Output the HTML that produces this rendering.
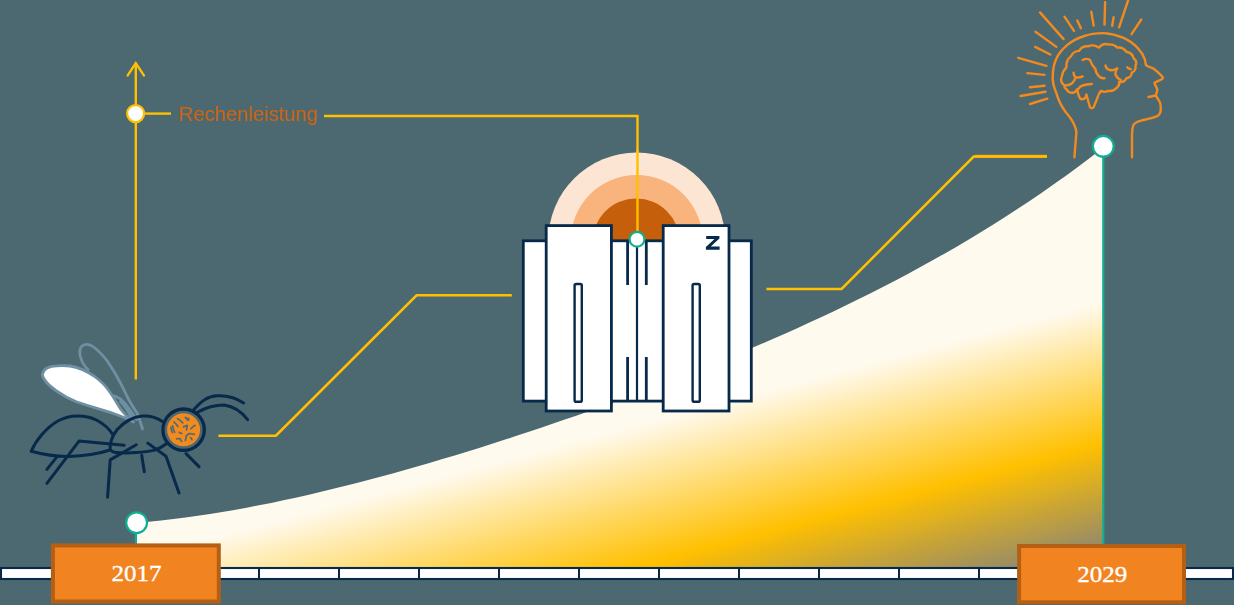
<!DOCTYPE html>
<html><head><meta charset="utf-8"><title>Rechenleistung</title>
<style>
html,body{margin:0;padding:0;background:#4c6871;}
body{width:1234px;height:605px;overflow:hidden;font-family:"Liberation Sans",sans-serif;}
svg{display:block;}
text{font-family:"Liberation Sans",sans-serif;}
</style></head><body>
<svg width="1234" height="605" viewBox="0 0 1234 605">
<defs>
<linearGradient id="ag" gradientUnits="userSpaceOnUse" x1="45.1" y1="170.2" x2="212.8" y2="802.9">
<stop offset="0" stop-color="#fffaee"/>
<stop offset="0.608" stop-color="#fffaee"/>
<stop offset="0.818" stop-color="#ffc000"/>
<stop offset="1" stop-color="#7f7f7f"/>
</linearGradient>

</defs>
<rect width="1234" height="605" fill="#4c6871"/>

<!-- AREA -->
<path id="area" d="M136.6,567 L136.6,522.8 L148.8,521.7 L161.1,520.4 L173.3,519.0 L185.5,517.5 L197.8,515.8 L210.0,513.9 L222.2,512.0 L234.5,509.9 L246.7,507.7 L258.9,505.3 L271.2,502.9 L283.4,500.3 L295.6,497.7 L307.9,494.9 L320.1,492.1 L332.3,489.1 L344.6,486.1 L356.8,483.0 L369.0,479.8 L381.3,476.5 L393.5,473.2 L405.7,469.8 L418.0,466.3 L430.2,462.7 L442.4,459.1 L454.7,455.4 L466.9,451.7 L479.1,447.9 L491.4,444.0 L503.6,440.1 L515.8,436.1 L528.1,432.1 L540.3,428.0 L552.5,423.8 L564.8,419.6 L577.0,415.4 L589.2,411.1 L601.5,406.7 L613.7,402.3 L625.9,397.8 L638.1,393.3 L650.4,388.7 L662.6,384.0 L674.8,379.3 L687.1,374.5 L699.3,369.7 L711.5,364.7 L723.8,359.8 L736.0,354.7 L748.2,349.6 L760.5,344.3 L772.7,339.0 L784.9,333.7 L797.2,328.2 L809.4,322.6 L821.6,316.9 L833.9,311.2 L846.1,305.3 L858.3,299.3 L870.6,293.2 L882.8,287.0 L895.0,280.7 L907.3,274.2 L919.5,267.6 L931.7,260.8 L944.0,253.9 L956.2,246.9 L968.4,239.7 L980.7,232.3 L992.9,224.7 L1005.1,217.0 L1017.4,209.1 L1029.6,201.0 L1041.8,192.7 L1054.1,184.1 L1066.3,175.4 L1078.5,166.4 L1090.8,157.2 L1103.0,147.8 L1103,567 Z" fill="url(#ag)"/>

<!-- TIMELINE -->
<g id="timeline">
<rect x="1" y="568" width="1232" height="11" fill="#ffffff" stroke="#07294a" stroke-width="2.1"/>
<g stroke="#07294a" stroke-width="2"><line x1="259" y1="567" x2="259" y2="580"/><line x1="339" y1="567" x2="339" y2="580"/><line x1="419" y1="567" x2="419" y2="580"/><line x1="499" y1="567" x2="499" y2="580"/><line x1="579" y1="567" x2="579" y2="580"/><line x1="659" y1="567" x2="659" y2="580"/><line x1="739" y1="567" x2="739" y2="580"/><line x1="819" y1="567" x2="819" y2="580"/><line x1="899" y1="567" x2="899" y2="580"/><line x1="979" y1="567" x2="979" y2="580"/></g>
</g>

<!-- AXIS -->
<g id="axis" fill="none" stroke="#ffc000" stroke-width="2.4">
<line x1="135.8" y1="63" x2="135.8" y2="379.5"/>
<polyline points="127.7,75.4 135.8,63.2 143.9,75.4" stroke-linecap="round" stroke-linejoin="miter"/>
<line x1="144" y1="113.6" x2="171" y2="113.6"/>
<circle cx="135.6" cy="113.6" r="8.5" fill="#ffffff" stroke-width="2.2"/>
<polyline points="324,116 637.5,116 637.5,232"/>
</g>
<text id="lbl" x="178.3" y="120.5" font-size="19.5" fill="#c9640f" textLength="139.3" lengthAdjust="spacingAndGlyphs">Rechenleistung</text>

<!-- CONNECTORS -->
<g id="conn" fill="none" stroke="#ffc000" stroke-width="2.5">
<polyline points="218.4,435.7 275.9,435.7 416.6,295.3 511.8,295.3"/>
<line x1="975" y1="156.2" x2="1047" y2="156.2" stroke="#f5981a" stroke-width="3"/>
<polyline points="766.4,288.9 841.6,288.9 973.7,156.5 1047,156.5"/>
</g>

<!-- MAINFRAME -->
<g id="mainframe">
<circle cx="636.7" cy="241" r="88.5" fill="#fde5d3"/>
<circle cx="636.7" cy="241" r="66" fill="#f8b47c"/>
<circle cx="636.2" cy="242" r="43.5" fill="#c65f0b"/>
<line x1="637.5" y1="150" x2="637.5" y2="232" stroke="#ffc000" stroke-width="2.4"/>
<g fill="#ffffff" stroke="#07294a" stroke-width="2.8">
<rect x="523.3" y="240.8" width="228" height="160.3"/>
<line x1="627.6" y1="240.8" x2="627.6" y2="285"/>
<line x1="646.3" y1="240.8" x2="646.3" y2="285"/>
<line x1="627.6" y1="357" x2="627.6" y2="401"/>
<line x1="646.3" y1="357" x2="646.3" y2="401"/>
<line x1="637" y1="240.8" x2="637" y2="401" stroke-width="2.2"/>
<rect x="546.2" y="225.6" width="65.2" height="185.4"/>
<rect x="663.2" y="225.6" width="65.8" height="185.4"/>
<rect x="574.6" y="284" width="7.2" height="117.8" rx="1.6" stroke-width="2.4"/>
<rect x="692.6" y="284" width="7.2" height="117.8" rx="1.6" stroke-width="2.4"/>
</g>
<path d="M706.2,236 H719.4 V238.6 L710.8,246.6 H719.6 V249.7 H705.9 V247.1 L714.5,239.1 H706.2 Z" fill="#07294a"/>
</g>

<!-- BEE -->
<g id="bee" fill="none" stroke-linecap="round" stroke-linejoin="round">
<g stroke="#6f90a2" stroke-width="2.8">
<path d="M88,369.5 C84,366 81.5,361 80.2,356 C79,351 80,346.5 84,344.8 C88,343.5 92,345.5 95.5,348.5 C100,352.5 103.5,356 106.5,360 C111,366.5 114.5,372 117.6,377.7 C121.5,384.5 124.5,391 127.6,397.5 C131,404 134.5,409 137.5,414 C139.5,419 141,424 142.5,429"/>
<path d="M114.3,395.9 C118,397 121.5,399.5 124.5,403 C129,408.5 133,414 136.5,419.5 M120.5,401.5 C124,405 128,411 131.5,418"/>
<path d="M42.4,374 C43.5,368.5 50,366 57,365.8 C62,365.3 66,365.5 70,366 C80,367.5 88,372 94,376 C100,380.5 105,385 108,389.5 C113,396 117,403.5 121,409.5 C124.5,414 128.5,418.5 133.5,422 C128,419 122,416.5 117.6,415 C112,412.8 106,411 101.1,409.6 C92,407 84,404.5 76.3,401.8 C69,399 62,395 56.5,391 C51,387 46,382.5 44.5,379.5 C43,377.5 42,376 42.4,374 Z" fill="#ffffff"/>
</g>
<g stroke="#07294a" stroke-width="3">
<path d="M31.3,451.2 C36,440 46,428 58.2,420.8 C70,414.5 85,414.5 96.4,420 C104,424 110,430 112.9,434.7"/>
<path d="M31.3,451.2 C45,455 58,456.5 68.6,456.4 C85,456 98,454 110,450"/>
<path d="M162.5,421.4 C156,417 148,415.5 142,416 C133,417 124,422 117.2,429.5 C112,436 109.5,444 110.2,448.6 C111,451.5 113,452.3 116,452.5 C128,453.5 145,452.5 154.7,450.1 C159,448.5 163,446.5 166,444"/>
<polyline points="124.1,445.3 79,441.1 46.9,483.3"/>
<polyline points="57.3,456.4 46.9,469.4"/>
<polyline points="136.3,444.8 110.2,459.9 107.6,497.2"/>
<polyline points="141.7,455.3 144.3,471.8"/>
<polyline points="147.8,443.1 166,456.2 179,493"/>
<polyline points="186,453.6 199,466.6"/>
<circle cx="183.6" cy="429.7" r="20.7" stroke-width="3.3"/>
<path d="M193.5,410 C197,406 201,402 205,399.5 C209,397 213,396 217.2,395.8 C227,395.3 236,398 243.6,402.9"/>
<path d="M197.5,412.2 C205,408 214,405 224.1,405 C234,406.5 242,412 247.6,419.7"/>
</g>
<circle cx="183.6" cy="429.8" r="16.5" fill="#f28a1e" stroke="none"/>
<g stroke="#4f6c79" stroke-width="1.7" stroke-linejoin="round"><path d="M172.6,425.8 L173.4,429.3 L174.6,432.3 M177.4,418.6 L180.1,420.3 L182.8,422.8 M185.3,417.4 L187.2,419.6 L188.6,420.4 M183.6,426.9 L187.3,425.3 L186.5,429.8 M191.0,428.6 L193.1,426.5 L195.2,425.3 M179.1,432.3 L180.6,433.2 L181.9,433.5 M186.1,436.0 L189.4,433.5 L194.3,434.3 M190.6,437.7 L191.5,438.6 L191.9,439.7 M176.6,438.9 L179.9,438.5 L181.6,441.4 M171.0,427.3 L171.4,430.1 L172.4,432.5 M175.7,423.6 L177.0,425.0 L177.8,426.5 M186.1,436.4 L185.9,438.6 L185.3,440.5 M174.1,422.0 L175.0,423.3 L175.7,423.6"/><path d="M186.2,418.2 l2.2,2 l0.8,-1.6 z" fill="#4f6c79" stroke-width="1"/></g>
</g>

<!-- HEAD -->
<g id="head" fill="none" stroke="#f28a1e" stroke-width="2.4" stroke-linecap="round" stroke-linejoin="round">
<line x1="1040" y1="12.4" x2="1063.6" y2="39.1"/><line x1="1035.5" y1="31.8" x2="1056.4" y2="46.9"/><line x1="1035.1" y1="46.9" x2="1050.4" y2="54.5"/><line x1="1018.2" y1="57.8" x2="1046.4" y2="65.8"/><line x1="1027.3" y1="73.1" x2="1044.5" y2="74.9"/><line x1="1030" y1="87.3" x2="1044.5" y2="85.8"/><line x1="1020.5" y1="96" x2="1045.5" y2="91.8"/><line x1="1030" y1="104" x2="1047.3" y2="98.7"/><line x1="1064.5" y1="16.7" x2="1074" y2="30.9"/><line x1="1077.3" y1="20.4" x2="1080.9" y2="28.2"/><line x1="1091.3" y1="11.8" x2="1093.6" y2="25.5"/><line x1="1105.1" y1="2.2" x2="1104.5" y2="24.5"/><line x1="1113.6" y1="17.3" x2="1112.2" y2="25.8"/><line x1="1128.2" y1="0" x2="1119.1" y2="27.3"/><line x1="1141.3" y1="19.5" x2="1131.5" y2="34.2"/>
<path d="M1074.4,157.3 L1076.4,132 C1075,122 1070,118 1066,112.4 C1061,106 1058,99 1056.2,92.7 C1053,85 1052.3,80 1052.8,75.8 C1052.8,69 1054,64 1056.2,59 C1059,53 1063,48.5 1067.4,44.9 C1072,41 1078,38 1084.3,36 C1090,34 1097,33 1103.9,33.1 C1111,33.5 1118,35.5 1123.6,37.9 C1129,40.5 1134,44 1137.6,47.8 C1141,51.5 1143.5,55.5 1144.7,59 L1146,65.2 C1148,67 1150.5,67.5 1153,68.3 C1156,70.5 1159,73 1161.5,75.8 C1163,77 1163,78 1162.4,78.7 C1160,80.5 1157,81.5 1154.5,82.9 C1155,85.5 1157,87.5 1157.3,89.9 L1155.9,95.5 C1157,98 1159,100 1160,102.5 C1160.8,105 1161,108 1160.7,111 C1160,114 1158.5,116 1155.9,116.6 C1151,118.5 1145.5,119.5 1140.4,120.8 C1137.5,121.5 1134.5,123 1133.4,125 C1132.3,128 1132,131 1132,134.8 L1132,157.3"/>
<path d="M1148.5,97 L1155.9,95.5"/>
<path d="M1064.5,85.5 C1061,83 1060.5,79.5 1061.8,76.4 C1062.5,72.5 1064,69.5 1066.4,67.3 C1066,62.5 1068,58.5 1070.9,56.4 C1072.5,53 1075.5,51 1079.1,50.9 C1081,47.5 1084.5,46 1088.2,46.4 C1091.5,44.5 1095.5,45.5 1099.1,47.6 C1101.5,44.5 1105,43.5 1108.2,44.5 C1111.5,44 1115,45 1117.3,47.6 C1121,47 1124.5,49 1126.4,51.8 C1130,52.5 1133,55 1133.6,58.2 C1136,60 1136.8,63 1135.5,65.5 C1136,68.5 1134.5,71.5 1131.8,72.7 C1131.5,76 1129,78 1126.4,78.2 C1125,81 1122,82.5 1119.1,81.8 C1119.5,84 1118.8,86 1117.3,87.3 C1115,90 1111.5,91.5 1108.2,90.9 C1106,92 1103,92 1100.9,90.9 C1099,93 1098,95.5 1097.3,98.2 L1093.6,107.3 C1092.5,108.5 1091,108.5 1090,107.3 L1086.4,94.5 C1086,97 1084.5,99 1082.7,99.1 C1080.5,99.5 1079.5,98 1079.1,96.4 C1078,94 1077.5,91.5 1077.3,89.1 C1076,91.5 1074,93 1071.8,92.7 C1069.5,93 1067.5,91.5 1066.4,89.1 C1065,88.5 1064.3,87 1064.5,85.5 Z"/>
<path d="M1082.7,60 C1085,58.5 1088,58.8 1090,60 C1091,63.5 1093,66.5 1095.5,69.1 C1095.5,72 1097,74.5 1099.1,76.4 C1100.5,78 1102.5,78.5 1104.5,78.2"/>
<path d="M1105.5,65.5 C1106,68 1107.5,69.5 1110,70 C1112.5,70.5 1115.5,69.8 1117.3,68.2 C1116,70 1115.2,72 1115.5,74.5 C1116.5,77 1118.5,79 1120.9,80"/>
<path d="M1127.3,67.3 C1128.3,68.3 1129.5,68.9 1130.9,69.1"/>
<path d="M1073.6,72.7 C1073.5,74.5 1074.2,76 1075.5,77.3 C1078,77.8 1080.5,77.4 1082.7,76.4"/>
<path d="M1075.5,77.3 C1075,80 1073.8,82 1071.8,83.6 C1069.5,85 1067,85.6 1064.5,85.5"/>
<path d="M1078.2,89.1 C1079.2,87.3 1080.7,86 1082.7,85.5 C1085.5,84.6 1088.7,84.2 1091.8,84"/>
</g>

<!-- MARKERS -->
<g id="markers" fill="#ffffff" stroke="#0fae92" stroke-width="2.2">
<line x1="1103.3" y1="146" x2="1103.3" y2="545"/>
<line x1="135.9" y1="522" x2="135.9" y2="545"/>
<circle cx="136.6" cy="522.7" r="10.4"/>
<circle cx="1103.3" cy="146.3" r="10.4"/>
<circle cx="637" cy="239.3" r="7.4"/>
</g>

<!-- BOXES -->
<g id="boxes">
<rect x="52.9" y="545.4" width="165.9" height="56.1" fill="#f28321" stroke="#b45f14" stroke-width="4"/>
<rect x="1019.1" y="546" width="164.9" height="56.3" fill="#f28321" stroke="#b45f14" stroke-width="4"/>
<text id="y1" x="111.4" y="580.6" font-size="24" fill="#ffffff" stroke="#ffffff" stroke-width="0.35" style="font-family:'Liberation Serif',serif" textLength="50" lengthAdjust="spacingAndGlyphs">2017</text>
<text id="y2" x="1077.2" y="581.7" font-size="24" fill="#ffffff" stroke="#ffffff" stroke-width="0.35" style="font-family:'Liberation Serif',serif" textLength="50" lengthAdjust="spacingAndGlyphs">2029</text>
</g>
</svg>
</body></html>
